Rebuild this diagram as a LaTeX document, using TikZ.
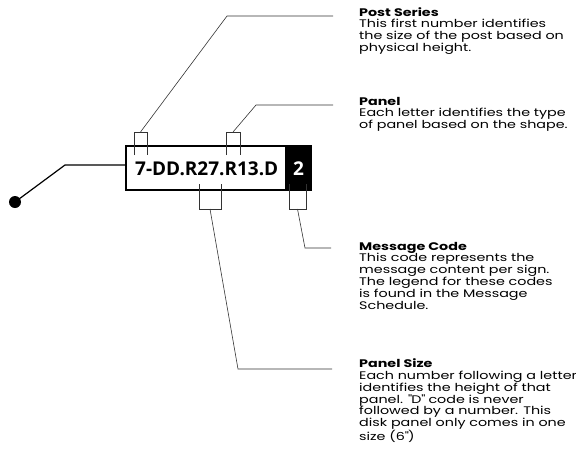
\documentclass[tikz,border=0pt]{standalone}
\usepackage{fontspec}
\setmainfont{Poppins}[FakeStretch=1.3]
\newfontfamily\codefont{Open Sans}
\usetikzlibrary{positioning}

\begin{document}
\begin{tikzpicture}[x=1pt,y=-1pt,
  lead/.style={line width=0.6pt, black!80},
  desc/.style={anchor=base west, align=left, inner sep=0pt,
    font=\fontsize{11}{11.8}\selectfont},
  code/.style={inner sep=0pt, font=\codefont\bfseries\fontsize{19}{20}\selectfont}]
  \useasboundingbox (0,0) rectangle (576,475);
  % sign code box
  \draw[line width=1.8pt] (126,146) rectangle (311,190);
  \fill (285,145.1) rectangle (312,190.9);
  \node[code, anchor=base west] (code) at (135,175) {7-DD.R27.R13.D};
  \node[code, anchor=base, text=white] (msg) at (298.5,175) {2};
  % post
  \coordinate (P) at (126,165);
  \coordinate (Pk) at (65,165);
  \coordinate (Pd) at (15,202);
  \draw[line width=1.2pt] (P) -- (Pk) -- (Pd);
  \fill (Pd) circle (6);
  % brackets
  \draw[lead] (134,155) -- (134,132) -- (147,132) -- (147,155);
  \draw[lead] (226,155) -- (226,132) -- (240,132) -- (240,155);
  \draw[lead] (199,184) -- (199,209) -- (221,209) -- (221,184);
  \draw[lead] (289,184) -- (289,209) -- (306,209) -- (306,184);
  \coordinate (A) at (140.5,132);
  \coordinate (B) at (233,132);
  \coordinate (C) at (210,209);
  \coordinate (D) at (297.5,209);
  % descriptions
  \node[desc] (series) at (359,51.4) {{\bfseries Post Series}\\This first number identifies\\the size of the post based on\\physical height.};
  \node[desc] (panel) at (359,128.6) {{\bfseries Panel}\\Each letter identifies the type\\of panel based on the shape.};
  \node[desc] (message) at (359,309) {{\bfseries Message Code}\\This code represents the\\message content per sign.\\The legend for these codes\\is found in the Message\\Schedule.};
  \node[desc] (size) at (359,440.8) {{\bfseries Panel Size}\\Each number following a letter\\identifies the height of that\\panel. \textquotedbl D\textquotedbl{} code is never\\followed by a number. This\\disk panel only comes in one\\size (6\textquotedbl)};
  % leaders
  \draw[lead] (A) -- (227,16) -- (333,16);
  \draw[lead] (B) -- (256,105) -- (333,105);
  \draw[lead] (D) -- (305,248) -- (331,248);
  \draw[lead] (C) -- (238,369) -- (332,369);
\end{tikzpicture}
\end{document}
